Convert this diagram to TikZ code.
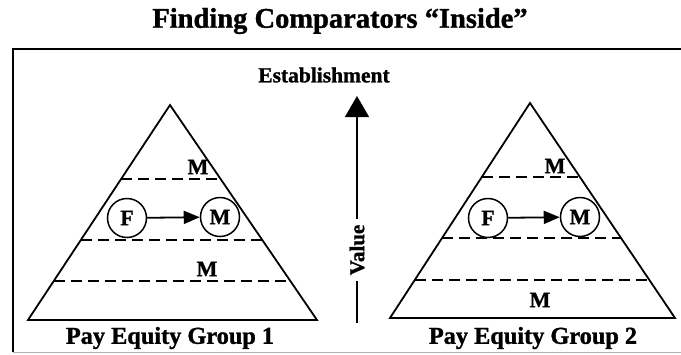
\documentclass[tikz,border=0pt]{standalone}
\usepackage{fontspec}
\setmainfont{Liberation Serif}
\newfontfamily\heavy{Liberation Serif Bold}[FakeBold=1.2]
\usetikzlibrary{arrows.meta,calc}
\tikzset{
  pyr/.style={line width=1.8pt, line join=miter},
  level/.style={line width=1.8pt, dash pattern=on 11pt off 6pt},
  lab/.style={font=\heavy\fontsize{22}{22}\selectfont, inner sep=1pt},
  circ/.style={draw, line width=1.5pt, circle, minimum size=39pt, inner sep=0pt, font=\heavy\fontsize{22}{22}\selectfont},
  link/.style={line width=1.8pt, -{Triangle[length=16pt,width=13pt]}},
  glab/.style={font=\heavy\fontsize{24.3}{24.3}\selectfont},
}
\begin{document}
\begin{tikzpicture}[x=1pt,y=-1pt]
\useasboundingbox (0,0) rectangle (681,354);
% title
\node[font=\heavy\fontsize{28.5}{28.5}\selectfont] (title) at (340,21) {Finding Comparators “Inside”};
% frame
\draw[line width=1.8pt] (13,352) -- (13,49) -- (681,49);
\draw[gray!60, line width=0.8pt] (13,352) -- (681,352);
\node[font=\heavy\fontsize{21.5}{21.5}\selectfont] (est) at (324,75) {Establishment};
% value arrow
\coordinate (vtop) at (357,96);
\coordinate (vbot) at (357,323);
\node[rotate=90, font=\heavy\fontsize{21}{21}\selectfont, inner sep=6pt] (val) at (357,250) {Value};
\draw[line width=1.5pt, -{Triangle[length=21pt,width=24pt]}] (val.east) -- (vtop);
\draw[line width=1.5pt] (val.west) -- (vbot);
% left pyramid
\coordinate (A1) at (170,105);
\coordinate (L1) at (28,320);
\coordinate (R1) at (317,320);
\draw[pyr] (A1) -- (L1) -- (R1) -- cycle;
\foreach \t in {0.344,0.628,0.82}{
  \draw[level] ($(A1)!\t!(L1)$) -- ($(A1)!\t!(R1)$);
}
\node[lab] (m1a) at (198,167) {M};
\node[circ] (f1) at (127,218) {F};
\node[circ] (m1b) at (220,217) {M};
\draw[link] (f1) -- (m1b);
\node[lab] (m1c) at (207,269) {M};
\node[glab] (g1) at (170,338) {Pay Equity Group 1};
% right pyramid
\coordinate (A2) at (530,103);
\coordinate (L2) at (390,318);
\coordinate (R2) at (675,318);
\draw[pyr] (A2) -- (L2) -- (R2) -- cycle;
\foreach \t in {0.344,0.628,0.823}{
  \draw[level] ($(A2)!\t!(L2)$) -- ($(A2)!\t!(R2)$);
}
\node[lab] (m2a) at (555,166) {M};
\node[circ] (f2) at (488,218) {F};
\node[circ] (m2b) at (580,217) {M};
\draw[link] (f2) -- (m2b);
\node[lab] (m2c) at (540,300) {M};
\node[glab] (g2) at (533,338) {Pay Equity Group 2};
\end{tikzpicture}
\end{document}
